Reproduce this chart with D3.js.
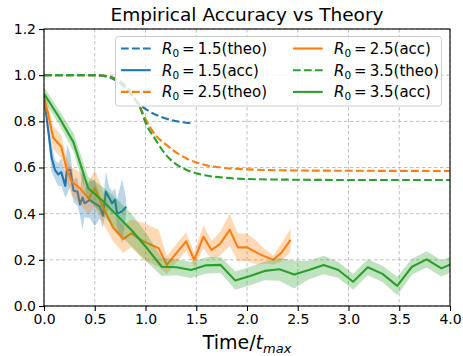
<!doctype html>
<html>
<head>
<meta charset="utf-8"/>
<style>
  body { margin: 0; background: #fff; }
  svg { display: block; font-family: "DejaVu Sans", sans-serif; }
  .grid line { stroke: #b0b0b0; stroke-width: 0.8; stroke-dasharray: 3.5,2.5; }
  .axis path, .axis line { stroke: #000; stroke-width: 1.1; }
  .axis text { font-size: 14px; fill: #000; font-family: "DejaVu Sans", sans-serif; }
</style>
<script src="https://cdn.jsdelivr.net/npm/d3@7/dist/d3.min.js"></script>
</head>
<body>
<svg width="463" height="356"></svg>
<script>
// ---- data ----
var xTicks = [0, 0.5, 1.0, 1.5, 2.0, 2.5, 3.0, 3.5, 4.0];
var yTicks = [0, 0.2, 0.4, 0.6, 0.8, 1.0, 1.2];

// theoretical curves
var theo15T = [0, 0.4, 0.55, 0.65, 0.75, 0.85, 0.95, 1.05, 1.15, 1.25, 1.35, 1.47];
var theo15  = [1.0, 1.0, 0.998, 0.99, 0.965, 0.92, 0.87, 0.84, 0.82, 0.806, 0.797, 0.79];

var theo25T = [0, 0.5, 0.6, 0.7, 0.8, 0.9, 0.95, 1.0, 1.1, 1.2, 1.3, 1.4, 1.5, 1.6, 1.8, 2.0, 2.5, 3.0, 4.0];
var theo25  = [1.0, 1.0, 0.997, 0.985, 0.955, 0.895, 0.86, 0.81, 0.74, 0.70, 0.666, 0.64, 0.622, 0.61, 0.597, 0.592, 0.587, 0.586, 0.585];

var theo35T = [0, 0.5, 0.6, 0.7, 0.8, 0.9, 0.95, 1.0, 1.1, 1.2, 1.3, 1.4, 1.5, 1.6, 1.8, 2.0, 2.5, 3.0, 4.0];
var theo35  = [1.0, 1.0, 0.997, 0.985, 0.955, 0.895, 0.855, 0.795, 0.72, 0.655, 0.615, 0.59, 0.575, 0.565, 0.555, 0.55, 0.547, 0.546, 0.546];

// empirical accuracy (mean and spread)
var acc15T   = [0, 0.03, 0.055, 0.076, 0.108, 0.14, 0.17, 0.21, 0.225, 0.26, 0.29, 0.33, 0.355, 0.38, 0.40, 0.45, 0.50, 0.55, 0.58, 0.61, 0.64, 0.67, 0.70, 0.72, 0.77, 0.81];
var acc15    = [0.91, 0.80, 0.715, 0.64, 0.59, 0.57, 0.58, 0.52, 0.59, 0.59, 0.50, 0.495, 0.44, 0.47, 0.445, 0.46, 0.445, 0.43, 0.39, 0.495, 0.47, 0.445, 0.46, 0.40, 0.41, 0.43];
var acc15Std = [0.02, 0.03, 0.05, 0.06, 0.04, 0.05, 0.06, 0.05, 0.11, 0.07, 0.05, 0.06, 0.05, 0.14, 0.06, 0.08, 0.10, 0.05, 0.05, 0.09, 0.05, 0.05, 0.05, 0.06, 0.14, 0.03];

var acc25T   = [0, 0.04, 0.09, 0.17, 0.22, 0.27, 0.355, 0.44, 0.50, 0.58, 0.68, 0.78, 0.86, 0.98, 1.13, 1.21, 1.40, 1.48, 1.57, 1.65, 1.73, 1.83, 1.91, 2.0, 2.1, 2.18, 2.26, 2.34, 2.43];
var acc25    = [0.90, 0.835, 0.73, 0.69, 0.60, 0.54, 0.51, 0.465, 0.51, 0.43, 0.34, 0.29, 0.315, 0.28, 0.25, 0.178, 0.28, 0.20, 0.30, 0.243, 0.267, 0.33, 0.254, 0.254, 0.23, 0.214, 0.20, 0.232, 0.286];
var acc25Std = [0.03, 0.04, 0.05, 0.05, 0.05, 0.06, 0.07, 0.07, 0.08, 0.07, 0.06, 0.06, 0.06, 0.08, 0.08, 0.04, 0.04, 0.03, 0.05, 0.04, 0.05, 0.07, 0.06, 0.06, 0.05, 0.03, 0.02, 0.04, 0.05];

var acc35T   = [0, 0.145, 0.29, 0.435, 0.58, 0.725, 0.87, 1.015, 1.16, 1.305, 1.45, 1.595, 1.74, 1.885, 2.03, 2.175, 2.32, 2.465, 2.61, 2.755, 2.90, 3.045, 3.19, 3.335, 3.48, 3.625, 3.77, 3.915, 4.06];
var acc35    = [0.92, 0.82, 0.71, 0.51, 0.455, 0.39, 0.325, 0.25, 0.17, 0.168, 0.156, 0.176, 0.178, 0.11, 0.13, 0.152, 0.159, 0.136, 0.156, 0.178, 0.156, 0.105, 0.168, 0.139, 0.087, 0.17, 0.202, 0.163, 0.19];
var acc35Std = [0.03, 0.03, 0.04, 0.05, 0.06, 0.07, 0.07, 0.06, 0.04, 0.035, 0.035, 0.035, 0.035, 0.04, 0.04, 0.04, 0.05, 0.06, 0.04, 0.04, 0.035, 0.035, 0.035, 0.035, 0.04, 0.035, 0.035, 0.035, 0.035];

var colors = { r15: "#1f77b4", r25: "#ff7f0e", r35: "#2ca02c" };

// ---- layout ----
var svg = d3.select("svg");
var pL = 44, pR = 450, pT = 29, pB = 306;

var x = d3.scaleLinear().domain([0, 4]).range([pL, pR]);
var y = d3.scaleLinear().domain([0, 1.2]).range([pB, pT]);

svg.append("defs").append("clipPath").attr("id", "plot")
  .append("rect").attr("x", pL).attr("y", pT)
  .attr("width", pR - pL).attr("height", pB - pT);

// grid
var grid = svg.append("g").attr("class", "grid");
grid.selectAll(".gx").data(xTicks).enter().append("line")
  .attr("x1", function(d) { return x(d); }).attr("x2", function(d) { return x(d); })
  .attr("y1", pT).attr("y2", pB);
grid.selectAll(".gy").data(yTicks).enter().append("line")
  .attr("y1", function(d) { return y(d); }).attr("y2", function(d) { return y(d); })
  .attr("x1", pL).attr("x2", pR);

var plot = svg.append("g").attr("clip-path", "url(#plot)");

function zip(ts, vs, ss) {
  return ts.map(function(t, i) { return { t: t, v: vs[i], s: ss ? ss[i] : 0 }; });
}

var smooth = d3.line().curve(d3.curveMonotoneX)
  .x(function(d) { return x(d.t); }).y(function(d) { return y(d.v); });
var straight = d3.line()
  .x(function(d) { return x(d.t); }).y(function(d) { return y(d.v); });
var band = d3.area()
  .x(function(d) { return x(d.t); })
  .y0(function(d) { return y(d.v - d.s); })
  .y1(function(d) { return y(d.v + d.s); });

function drawSeries(theoT, theoV, accT, accV, accS, col) {
  plot.append("path").datum(zip(theoT, theoV))
    .attr("d", smooth).attr("fill", "none").attr("stroke", col)
    .attr("stroke-width", 2.1).attr("stroke-dasharray", "7.7,3.3");
  plot.append("path").datum(zip(accT, accV))
    .attr("d", straight).attr("fill", "none").attr("stroke", col)
    .attr("stroke-width", 2.1).attr("stroke-linejoin", "round");
  plot.append("path").datum(zip(accT, accV, accS))
    .attr("d", band).attr("fill", col).attr("fill-opacity", 0.3).attr("stroke", "none");
}

drawSeries(theo15T, theo15, acc15T, acc15, acc15Std, colors.r15);
drawSeries(theo25T, theo25, acc25T, acc25, acc25Std, colors.r25);
drawSeries(theo35T, theo35, acc35T, acc35, acc35Std, colors.r35);

// spines
svg.append("rect").attr("x", pL).attr("y", pT)
  .attr("width", pR - pL).attr("height", pB - pT)
  .attr("fill", "none").attr("stroke", "#000").attr("stroke-width", 1.1);

// axes
svg.append("g").attr("class", "axis")
  .attr("transform", "translate(0," + pB + ")")
  .call(d3.axisBottom(x).tickValues(xTicks).tickFormat(d3.format(".1f")).tickSizeOuter(0).tickSize(5).tickPadding(3))
  .call(function(g) { g.select(".domain").remove(); });
svg.append("g").attr("class", "axis")
  .attr("transform", "translate(" + pL + ",0)")
  .call(d3.axisLeft(y).tickValues(yTicks).tickFormat(d3.format(".1f")).tickSizeOuter(0).tickSize(5).tickPadding(3))
  .call(function(g) { g.select(".domain").remove(); });

// title
svg.append("text").attr("x", (pL + pR) / 2).attr("y", 21)
  .attr("text-anchor", "middle").attr("font-size", 18.5).text("Empirical Accuracy vs Theory");

// x label
var xl = svg.append("text").attr("x", (pL + pR) / 2).attr("y", 349)
  .attr("text-anchor", "middle").attr("font-size", 19);
xl.append("tspan").text("Time/");
xl.append("tspan").attr("font-style", "italic").text("t");
xl.append("tspan").attr("font-style", "italic").attr("font-size", 13).attr("dy", 4).text("max");

// legend
var legendItems = [
  { r: "1.5", kind: "theo", col: colors.r15, dash: true },
  { r: "1.5", kind: "acc",  col: colors.r15, dash: false },
  { r: "2.5", kind: "theo", col: colors.r25, dash: true },
  { r: "2.5", kind: "acc",  col: colors.r25, dash: false },
  { r: "3.5", kind: "theo", col: colors.r35, dash: true },
  { r: "3.5", kind: "acc",  col: colors.r35, dash: false }
];
var lg = svg.append("g");
lg.append("rect").attr("x", 115.5).attr("y", 36.5).attr("width", 326).attr("height", 69.5)
  .attr("rx", 3).attr("fill", "#fff").attr("fill-opacity", 0.8)
  .attr("stroke", "#cccccc").attr("stroke-width", 1);

legendItems.forEach(function(d, i) {
  var c = Math.floor(i / 3), row = i % 3;
  var hx = c === 0 ? 121 : 293;
  var cy = 48.5 + row * 21.7;
  lg.append("line").attr("x1", hx).attr("x2", hx + 29.7).attr("y1", cy).attr("y2", cy)
    .attr("stroke", d.col).attr("stroke-width", 2.1)
    .attr("stroke-dasharray", d.dash ? "7.7,3.3" : null);
  var t = lg.append("text").attr("x", hx + 41).attr("y", cy + 5.5).attr("font-size", 15);
  t.append("tspan").attr("font-style", "italic").text("R");
  t.append("tspan").attr("font-size", 10.5).attr("dy", 3).text("0");
  t.append("tspan").attr("dy", -3).text("\u2009=\u2009" + d.r + "(" + d.kind + ")");
});
</script>
</body>
</html>
